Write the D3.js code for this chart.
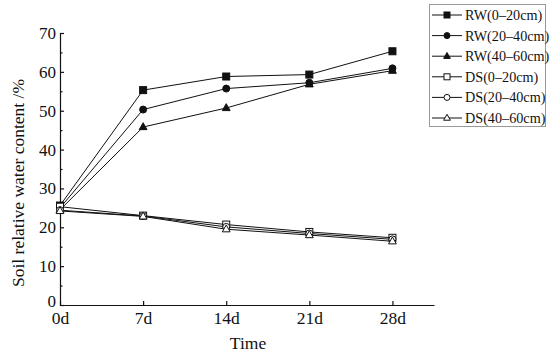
<!DOCTYPE html>
<html>
<head>
<meta charset="utf-8">
<script src="https://cdn.jsdelivr.net/npm/d3@7"></script>
<style>
  body { margin: 0; background: #fff; }
  svg text { font-family: "Liberation Serif", "Times New Roman", serif; fill: #111; }
</style>
</head>
<body>
<div id="chart"></div>
<script>
// data
var days = [0, 7, 14, 21, 28];
var dayLabels = ["0d", "7d", "14d", "21d", "28d"];
var seriesNames = ["RW(0\u201320cm)", "RW(20\u201340cm)", "RW(40\u201360cm)", "DS(0\u201320cm)", "DS(20\u201340cm)", "DS(40\u201360cm)"];
var rw0_20  = [25.6, 55.3, 58.8, 59.3, 65.3];
var rw20_40 = [25.0, 50.3, 55.7, 57.2, 60.9];
var rw40_60 = [24.5, 45.8, 50.7, 56.8, 60.3];
var ds0_20  = [25.3, 23.0, 20.7, 18.8, 17.3];
var ds20_40 = [24.4, 22.9, 20.1, 18.4, 16.9];
var ds40_60 = [24.2, 22.8, 19.5, 18.0, 16.4];
var yTicks = [0, 10, 20, 30, 40, 50, 60, 70];

var allSeries = [rw0_20, rw20_40, rw40_60, ds0_20, ds20_40, ds40_60];
var shapes = ["square", "circle", "triangle", "square", "circle", "triangle"];
var filled = [true, true, true, false, false, false];

var width = 550, height = 354;
var margin = {top: 33, right: 116, bottom: 49, left: 60};
var w = width - margin.left - margin.right,
    h = height - margin.top - margin.bottom;

var svg = d3.select("#chart").append("svg")
    .attr("width", width)
    .attr("height", height);

var g = svg.append("g")
    .attr("transform", "translate(" + margin.left + "," + margin.top + ")");

var x = d3.scaleLinear().domain([0, 31.5]).range([0, w]);
var y = d3.scaleLinear().domain([0, 70]).range([h, 0]);

// y axis, ticks pointing inward + minor ticks
var yAxis = g.append("g")
    .call(d3.axisLeft(y).tickValues(yTicks).tickSize(-4).tickPadding(4));
yAxis.selectAll("text").style("font-size", "17px");
// nudge the "0" a little so it doesn't sit on "0d"
yAxis.selectAll("text").filter(function(d) { return d === 0; }).attr("dy", "0.1em");
g.append("g")
    .call(d3.axisLeft(y).tickValues(d3.range(5, 70, 10)).tickSize(-2.5).tickFormat(""))
    .select(".domain").remove();

// x axis
var xAxis = g.append("g")
    .attr("transform", "translate(0," + h + ")")
    .call(d3.axisBottom(x).tickValues(days).tickFormat(function(d, i) { return dayLabels[i]; })
      .tickSize(-4).tickPadding(7).tickSizeOuter(0));
xAxis.selectAll("text").style("font-size", "17.5px");

svg.selectAll(".domain, .tick line").attr("stroke", "#111").attr("stroke-width", 1.2);

// axis titles
svg.append("text")
    .attr("x", 248)
    .attr("y", 349)
    .attr("text-anchor", "middle")
    .style("font-size", "17.5px")
    .text("Time");

svg.append("text")
    .attr("transform", "translate(24,183) rotate(-90)")
    .attr("text-anchor", "middle")
    .style("font-size", "17.5px")
    .text("Soil relative water content /%");

var line = d3.line()
    .x(function(d, i) { return x(days[i]); })
    .y(function(d) { return y(d); });

function drawMarker(sel, shape, fill, cx, cy, s) {
  var col = fill ? "#111" : "#fff";
  if (shape === "square") {
    sel.append("rect").attr("x", cx - s / 2).attr("y", cy - s / 2)
      .attr("width", s).attr("height", s)
      .attr("fill", col).attr("stroke", "#111").attr("stroke-width", 1);
  } else if (shape === "circle") {
    sel.append("circle").attr("cx", cx).attr("cy", cy).attr("r", s / 2)
      .attr("fill", col).attr("stroke", "#111").attr("stroke-width", 1);
  } else {
    var r = s * 0.62;
    sel.append("path")
      .attr("d", "M" + cx + "," + (cy - r) + "L" + (cx + r * 0.9) + "," + (cy + r * 0.6) + "L" + (cx - r * 0.9) + "," + (cy + r * 0.6) + "Z")
      .attr("fill", col).attr("stroke", "#111").attr("stroke-width", 1);
  }
}

allSeries.forEach(function(vals, k) {
  g.append("path")
    .datum(vals)
    .attr("fill", "none")
    .attr("stroke", "#111")
    .attr("stroke-width", 1)
    .attr("d", line);
});
allSeries.forEach(function(vals, k) {
  var mg = g.append("g");
  vals.forEach(function(v, i) {
    drawMarker(mg, shapes[k], filled[k], x(days[i]), y(v), 7);
  });
});

// legend
var lg = svg.append("g");
lg.append("rect")
    .attr("x", 429.5).attr("y", 4.5)
    .attr("width", 116).attr("height", 122)
    .attr("fill", "#fff").attr("stroke", "#999").attr("stroke-width", 1);
seriesNames.forEach(function(name, k) {
  var ly = 15 + k * 20.6;
  lg.append("line")
    .attr("x1", 432).attr("x2", 462).attr("y1", ly).attr("y2", ly)
    .attr("stroke", "#111").attr("stroke-width", 1);
  drawMarker(lg, shapes[k], filled[k], 447, ly, 6);
  lg.append("text")
    .attr("x", 465).attr("y", ly + 5)
    .style("font-size", "14.2px")
    .text(name);
});
</script>
</body>
</html>
